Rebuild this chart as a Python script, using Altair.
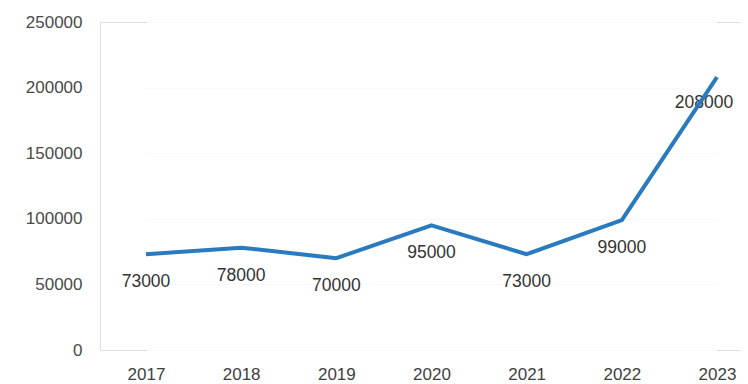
import altair as alt
import pandas as pd

years = ["2017", "2018", "2019", "2020", "2021", "2022", "2023"]
values = [73000, 78000, 70000, 95000, 73000, 99000, 208000]
y_ticks = [0, 50000, 100000, 150000, 200000, 250000]

df = pd.DataFrame({"year": years, "value": values})

FONT = "Liberation Sans"
x_enc = alt.X("year:O", sort=years,
              scale=alt.Scale(type="point", range=[46, 617], padding=0),
              axis=alt.Axis(title=None, labelAngle=0, domain=False, ticks=False,
                            labelPadding=16, labelFontSize=17, labelFont=FONT,
                            labelColor="#404040", grid=False))
y_enc = alt.Y("value:Q", scale=alt.Scale(domain=[0, 250000], nice=False),
              axis=alt.Axis(title=None, values=y_ticks, format="d", domain=False, ticks=False,
                            labelPadding=18, labelFontSize=17, labelFont=FONT,
                            labelColor="#4a4a4a", grid=True, gridColor="#f8f8f8"))

base = alt.Chart(df).encode(x=x_enc, y=y_enc)

labels_main = base.transform_filter(alt.datum.year != "2023").mark_text(
    dy=28, fontSize=17.5, font=FONT, color="#333333").encode(text=alt.Text("value:Q", format="d"))
labels_last = base.transform_filter(alt.datum.year == "2023").mark_text(
    dy=26, dx=-13, fontSize=17.5, font=FONT, color="#333333").encode(text=alt.Text("value:Q", format="d"))

line = base.mark_line(color="#2a7abf", strokeWidth=4, strokeJoin="round")

chart = (labels_main + labels_last + line).properties(
    width=640, height=328,
    autosize=alt.AutoSizeParams(type="none"),
    padding={"left": 92, "top": 14, "right": 0, "bottom": 34},
).configure_view(strokeWidth=0, stroke="transparent").configure_axis(
    domain=False
).configure_axisX(grid=False).configure(background="white")

chart.save("out.html", embed_options={"renderer": "svg", "actions": False})
